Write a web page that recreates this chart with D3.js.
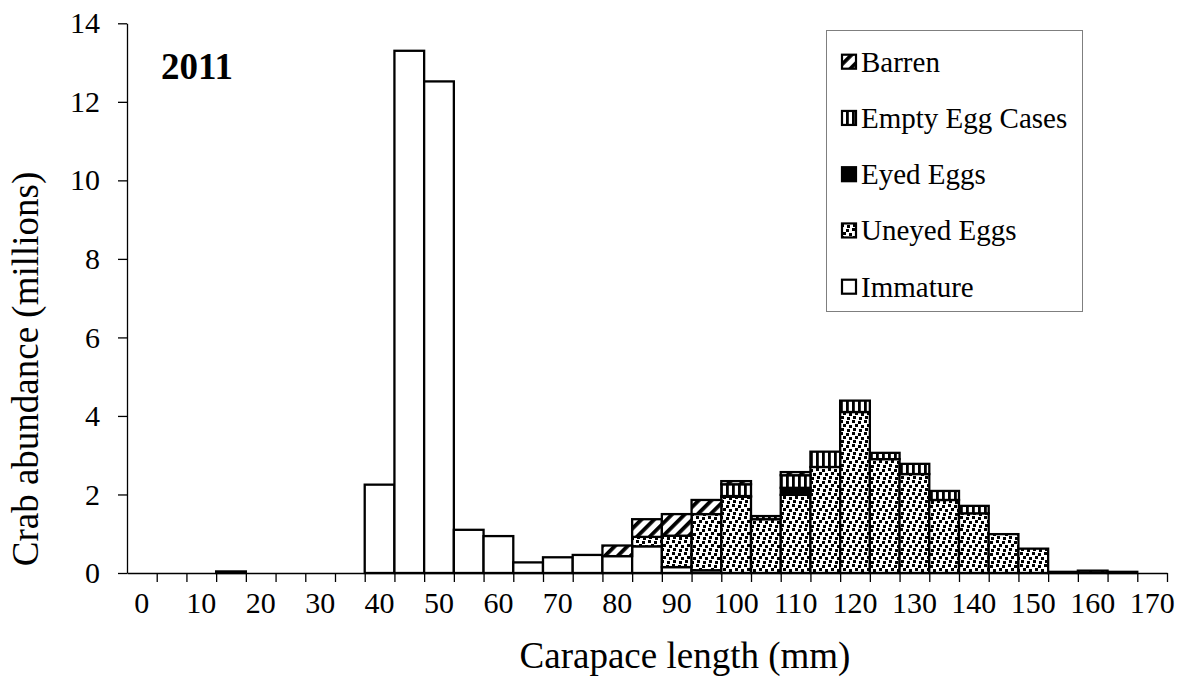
<!DOCTYPE html>
<html>
<head>
<meta charset="utf-8">
<script src="https://cdn.jsdelivr.net/npm/d3@7"></script>
<style>
  html, body { margin: 0; padding: 0; background: #fff; }
  svg { display: block; }
</style>
</head>
<body>
<svg id="chart" width="1182" height="681"></svg>
<script>
// Carapace length bins (mm)
const categories = [0,5,10,15,20,25,30,35,40,45,50,55,60,65,70,75,80,85,90,95,100,105,110,115,120,125,130,135,140,145,150,155,160,165,170];
const tickLabels = [0,10,20,30,40,50,60,70,80,90,100,110,120,130,140,150,160,170];
const yTicks = [0,2,4,6,8,10,12,14];

// Abundance (millions) per maturity/clutch class
const immature   = [0,0,0,0.04,0,0,0,0,2.25,13.3,12.52,1.1,0.94,0.27,0.4,0.46,0.43,0.68,0.15,0.07,0,0,0,0,0,0,0,0,0,0,0,0,0,0,0];
const uneyedEggs = [0,0,0,0,0,0,0,0,0,0,0,0,0,0,0,0,0,0.24,0.8,1.43,1.94,1.37,1.99,2.7,4.1,2.9,2.52,1.86,1.52,0.99,0.62,0.03,0.06,0.03,0];
const eyedEggs   = [0,0,0,0,0,0,0,0,0,0,0,0,0,0,0,0,0,0,0,0,0.02,0,0.18,0,0,0,0,0,0,0,0,0,0,0,0];
const emptyCases = [0,0,0,0,0,0,0,0,0,0,0,0,0,0,0,0,0,0,0,0,0.3,0.08,0.32,0.39,0.29,0.16,0.26,0.23,0.19,0,0,0,0,0,0];
const barren     = [0,0,0,0,0,0,0,0,0,0,0,0,0,0,0,0,0.27,0.45,0.55,0.36,0.08,0,0.08,0,0,0,0,0,0,0,0,0,0,0,0];

const seriesNames = ["Immature","Uneyed Eggs","Eyed Eggs","Empty Egg Cases","Barren"];
const legendOrder = ["Barren","Empty Egg Cases","Eyed Eggs","Uneyed Eggs","Immature"];

const rows = categories.map((c, i) => ({
  cat: c,
  "Immature": immature[i],
  "Uneyed Eggs": uneyedEggs[i],
  "Eyed Eggs": eyedEggs[i],
  "Empty Egg Cases": emptyCases[i],
  "Barren": barren[i]
}));

const FONT = '"Liberation Serif", "Times New Roman", Times, serif';
const svg = d3.select("#chart");
const plot = {left: 127, right: 1167, top: 23.3, bottom: 573};

const x = d3.scaleBand().domain(categories).range([plot.left, plot.right]).padding(0);
const y = d3.scaleLinear().domain([0, 14]).range([plot.bottom, plot.top]);

// Patterns
const defs = svg.append("defs");
const pBarren = defs.append("pattern").attr("id","pat-barren").attr("patternUnits","userSpaceOnUse")
  .attr("width",9).attr("height",9).attr("patternTransform","rotate(45)");
pBarren.append("rect").attr("width",9).attr("height",9).attr("fill","#fff");
pBarren.append("rect").attr("x",0).attr("y",0).attr("width",3.8).attr("height",9).attr("fill","#000");

const pEmpty = defs.append("pattern").attr("id","pat-empty").attr("patternUnits","userSpaceOnUse")
  .attr("width",6).attr("height",6);
pEmpty.append("rect").attr("width",6).attr("height",6).attr("fill","#fff");
pEmpty.append("rect").attr("x",0).attr("y",0).attr("width",2.8).attr("height",6).attr("fill","#000");

const pDots = defs.append("pattern").attr("id","pat-dots").attr("patternUnits","userSpaceOnUse")
  .attr("width",12).attr("height",12);
pDots.append("rect").attr("width",12).attr("height",12).attr("fill","#fff");
[[0,0],[6,1],[3,4],[9,5],[1,8],[7,9]].forEach(([dx,dy]) => {
  pDots.append("rect").attr("x",dx).attr("y",dy).attr("width",3).attr("height",3).attr("fill","#000");
});

const fills = {
  "Immature": "#fff",
  "Uneyed Eggs": "url(#pat-dots)",
  "Eyed Eggs": "#000",
  "Empty Egg Cases": "url(#pat-empty)",
  "Barren": "url(#pat-barren)"
};

// Stacked bars
const stacked = d3.stack().keys(seriesNames)(rows);
const gBars = svg.append("g");
stacked.forEach(s => {
  gBars.append("g")
    .selectAll("rect")
    .data(s.filter(d => d[1] - d[0] > 0))
    .join("rect")
    .attr("x", d => x(d.data.cat))
    .attr("width", x.bandwidth())
    .attr("y", d => y(d[1]))
    .attr("height", d => y(d[0]) - y(d[1]))
    .attr("fill", fills[s.key])
    .attr("stroke", "#000")
    .attr("stroke-width", 2.3);
});

// Y axis
const yAxis = d3.axisLeft(y).tickValues(yTicks).tickSize(9).tickSizeOuter(0).tickPadding(18);
const gy = svg.append("g").attr("transform", `translate(${plot.left},0)`).call(yAxis);
gy.select(".domain").attr("stroke","#000").attr("stroke-width",1.3);
gy.selectAll(".tick line").attr("stroke","#000").attr("stroke-width",1.3);
gy.selectAll(".tick text").style("font-family", FONT).style("font-size","30px").attr("fill","#000");

// X axis: ticks at band boundaries, labels at every other band center
const xb = d3.scaleLinear().domain([0, categories.length]).range([plot.left, plot.right]);
const gx = svg.append("g").attr("transform", `translate(0,${plot.bottom})`);
gx.call(d3.axisBottom(xb).tickValues(d3.range(1, categories.length + 1)).tickSize(9).tickSizeOuter(0).tickFormat(""));
gx.select(".domain").attr("stroke","#000").attr("stroke-width",1.3);
gx.selectAll(".tick line").attr("stroke","#000").attr("stroke-width",1.3);
gx.selectAll(".lbl")
  .data(tickLabels)
  .join("text")
  .attr("class","lbl")
  .attr("x", d => x(d) + x.bandwidth() / 2)
  .attr("y", 40)
  .attr("text-anchor","middle")
  .attr("fill","#000")
  .style("font-family", FONT).style("font-size","30px")
  .text(d => d);

// Axis titles
svg.append("text")
  .attr("x", 685).attr("y", 668)
  .attr("text-anchor","middle")
  .style("font-family", FONT).style("font-size","37px")
  .text("Carapace length (mm)");

svg.append("text")
  .attr("transform","translate(38,369) rotate(-90)")
  .attr("text-anchor","middle")
  .style("font-family", FONT).style("font-size","37px")
  .text("Crab abundance (millions)");

// Year label
svg.append("text")
  .attr("x", 161).attr("y", 79)
  .style("font-family", FONT).style("font-size","37px").style("font-weight","bold")
  .text("2011");

// Legend
const lg = svg.append("g");
lg.append("rect")
  .attr("x", 826.5).attr("y", 30.5).attr("width", 256).attr("height", 281)
  .attr("fill","#fff").attr("stroke","#7f7f7f").attr("stroke-width",1);
legendOrder.forEach((name, i) => {
  const cy = 61.7 + i * 56.25;
  lg.append("rect")
    .attr("x", 842).attr("y", cy - 7).attr("width", 14).attr("height", 14)
    .attr("fill", fills[name]).attr("stroke","#000").attr("stroke-width",2.2);
  lg.append("text")
    .attr("x", 861).attr("y", cy + 9.8)
    .style("font-family", FONT).style("font-size","29px")
    .text(name);
});
</script>
</body>
</html>
